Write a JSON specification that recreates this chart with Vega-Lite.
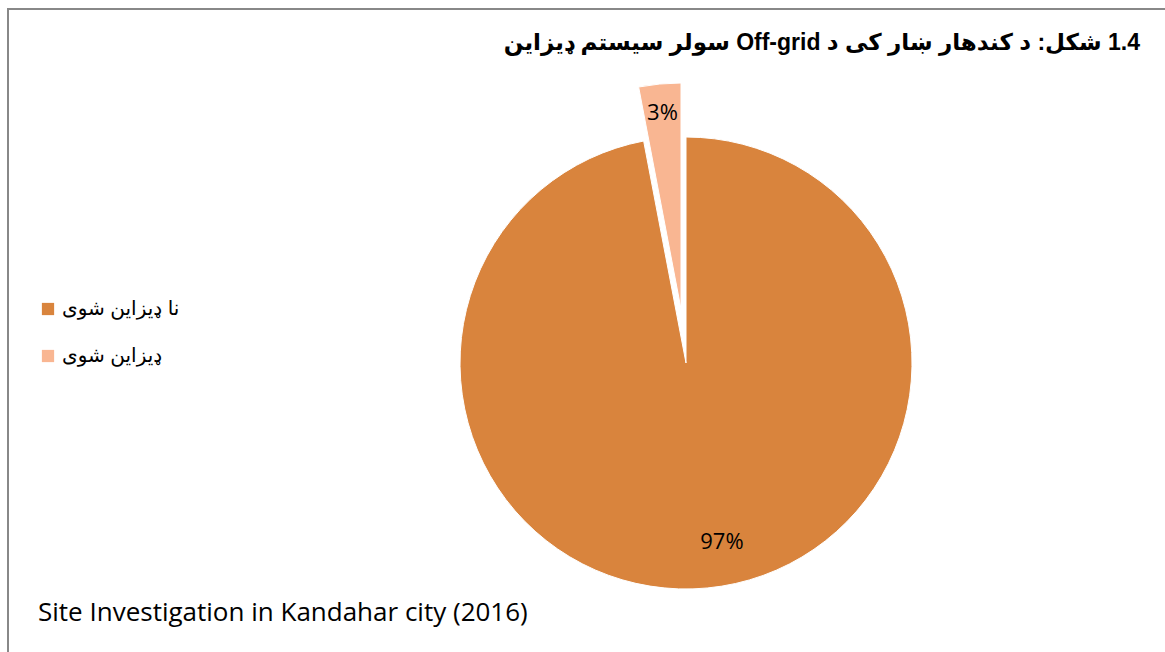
{
  "$schema": "https://vega.github.io/schema/vega-lite/v6.json",
  "width": 1356,
  "height": 708,
  "autosize": {"type": "none"},
  "padding": {"left": 8, "top": 9, "right": -199, "bottom": -65},
  "background": "white",
  "view": {"stroke": "#888888", "strokeWidth": 2},
  "title": {
    "text": "\u202B1.4 شکل: د کندهار ښار کی د Off-grid سولر سیستم ډیزاین\u202C",
    "anchor": "end",
    "frame": "group",
    "dx": -224,
    "offset": -46,
    "font": "Liberation Sans, DejaVu Sans, sans-serif",
    "fontSize": 23,
    "fontWeight": "bold",
    "color": "#000000"
  },
  "data": {
    "values": [
      {"category": "نا ډیزاین شوی", "value": 97, "label": "97%"},
      {"category": "ډیزاین شوی", "value": 3, "label": "3%"}
    ]
  },
  "transform": [
    {"stack": "value", "groupby": [], "sort": [{"field": "category", "order": "ascending"}], "as": ["v0", "v1"]}
  ],
  "layer": [
    {
      "transform": [{"filter": "datum.value > 50"}],
      "mark": {"type": "arc", "outerRadius": 226, "stroke": "white", "strokeWidth": 1},
      "encoding": {
        "theta": {"field": "v0", "type": "quantitative", "scale": {"domain": [0, 100]}},
        "theta2": {"field": "v1"},
        "color": {
          "field": "category",
          "type": "nominal",
          "scale": {"domain": ["نا ډیزاین شوی", "ډیزاین شوی"], "range": ["#D9843D", "#F9B692"]},
          "legend": {
            "orient": "none",
            "legendX": 30,
            "legendY": 290,
            "title": "Site Investigation in Kandahar city (2016)",
            "titleOrient": "bottom",
            "titleAnchor": "start",
            "titlePadding": 234,
            "titleFont": "Open Sans",
            "titleFontSize": 26,
            "titleFontWeight": "normal",
            "titleColor": "#000000",
            "titleLimit": 1000,
            "labelFont": "Liberation Sans, DejaVu Sans, sans-serif",
            "labelFontSize": 20,
            "labelColor": "#000000",
            "labelLimit": 400,
            "labelOffset": 4,
            "symbolType": "square",
            "symbolSize": 150,
            "symbolStrokeWidth": 0,
            "symbolOpacity": 1,
            "rowPadding": 27
          }
        }
      }
    },
    {
      "transform": [{"filter": "datum.value < 50"}],
      "mark": {"type": "arc", "outerRadius": 226, "stroke": "white", "strokeWidth": 1, "xOffset": -5, "yOffset": -54},
      "encoding": {
        "theta": {"field": "v0", "type": "quantitative"},
        "theta2": {"field": "v1"},
        "color": {"field": "category", "type": "nominal"}
      }
    },
    {
      "mark": {"type": "text", "radius": 180, "dx": 19, "font": "Open Sans", "fontSize": 22, "color": "#000000"},
      "encoding": {
        "theta": {"field": "value", "type": "quantitative", "stack": true},
        "order": {"field": "value", "type": "quantitative", "sort": "descending"},
        "detail": {"field": "category", "type": "nominal"},
        "text": {"condition": {"test": "datum.value > 50", "field": "label", "type": "nominal"}, "value": ""}
      }
    },
    {
      "mark": {"type": "text", "radius": 197, "xOffset": -5, "yOffset": -54, "font": "Open Sans", "fontSize": 22, "color": "#000000"},
      "encoding": {
        "theta": {"field": "value", "type": "quantitative", "stack": true},
        "order": {"field": "value", "type": "quantitative", "sort": "descending"},
        "detail": {"field": "category", "type": "nominal"},
        "text": {"condition": {"test": "datum.value < 50", "field": "label", "type": "nominal"}, "value": ""}
      }
    }
  ]
}
